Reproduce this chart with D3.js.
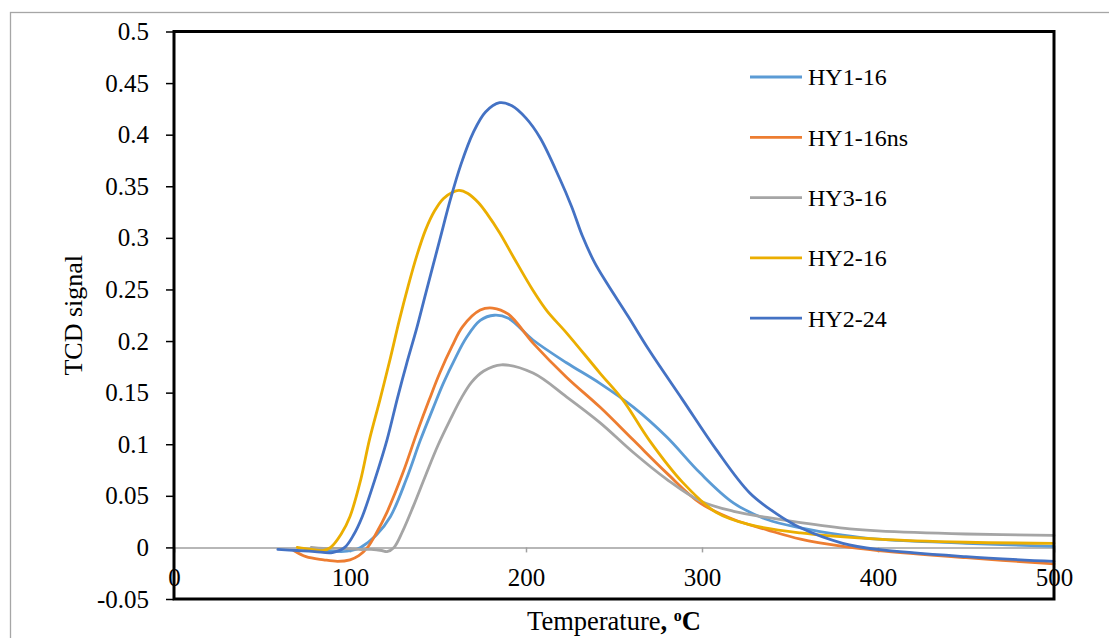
<!DOCTYPE html>
<meta charset="utf-8">
<style>
  body { margin: 0; background: #fff; }
  text { font-family: "Liberation Serif", "Times New Roman", serif; fill: #000; }
</style>
<script src="https://d3js.org/d3.v7.min.js"></script>
<div id="chart"></div>
<script>
// values
var xTicks = [0, 100, 200, 300, 400, 500];
var yTicks = [-0.05, 0, 0.05, 0.1, 0.15, 0.2, 0.25, 0.3, 0.35, 0.4, 0.45, 0.5];

var hy1_16_T = [75, 85, 95, 101, 106, 115, 123, 132, 140, 147, 153, 160, 166, 174, 182, 190, 204, 223, 242, 261, 280, 299, 318, 337, 356, 380, 400, 450, 500];
var hy1_16_V = [-0.002, -0.003, -0.004, -0.003, 0.0, 0.012, 0.030, 0.066, 0.104, 0.134, 0.159, 0.184, 0.203, 0.220, 0.225, 0.222, 0.201, 0.179, 0.159, 0.136, 0.107, 0.072, 0.043, 0.027, 0.019, 0.012, 0.008, 0.004, 0.001];

var hy1_16ns_T = [68, 75, 85, 93, 100, 105, 110, 115, 121, 130, 138, 145, 151, 158, 164, 174, 181, 190, 204, 223, 242, 261, 280, 299, 318, 337, 356, 380, 400, 450, 500];
var hy1_16ns_V = [-0.003, -0.009, -0.012, -0.0135, -0.012, -0.008, 0.0, 0.014, 0.034, 0.072, 0.111, 0.143, 0.169, 0.195, 0.214, 0.230, 0.232, 0.226, 0.198, 0.165, 0.136, 0.104, 0.072, 0.043, 0.027, 0.017, 0.008, 0.001, -0.003, -0.010, -0.016];

var hy3_16_T = [78, 85, 95, 105, 112, 118, 121, 125, 130, 136, 143, 150, 157, 163, 169, 176, 186, 204, 223, 242, 261, 280, 299, 318, 337, 356, 384, 400, 450, 500];
var hy3_16_V = [0.0, -0.001, -0.001, -0.002, -0.002, -0.003, -0.004, 0.0, 0.016, 0.040, 0.070, 0.099, 0.124, 0.144, 0.160, 0.171, 0.177, 0.169, 0.146, 0.121, 0.092, 0.066, 0.045, 0.035, 0.029, 0.024, 0.018, 0.016, 0.013, 0.0116];

var hy2_16_T = [70, 78, 85, 89, 95, 100, 106, 111, 117, 123, 128, 133, 138, 143, 148, 153, 158, 162, 167, 173, 178, 185, 193, 204, 212, 223, 242, 255, 270, 289, 308, 327, 356, 400, 450, 500];
var hy2_16_V = [0.0, -0.002, -0.003, 0.0, 0.013, 0.030, 0.065, 0.104, 0.143, 0.184, 0.220, 0.253, 0.283, 0.308, 0.326, 0.338, 0.344, 0.346, 0.343, 0.334, 0.323, 0.305, 0.281, 0.249, 0.229, 0.208, 0.169, 0.143, 0.104, 0.063, 0.034, 0.022, 0.014, 0.008, 0.005, 0.004];

var hy2_24_T = [59, 70, 80, 90, 97, 102, 107, 114, 121, 127, 132, 138, 143, 151, 157, 163, 170, 177, 185, 192, 200, 208, 219, 226, 232, 239, 246, 258, 270, 289, 308, 327, 342, 356, 380, 400, 450, 500];
var hy2_24_V = [-0.002, -0.003, -0.004, -0.005, 0.0, 0.012, 0.030, 0.065, 0.104, 0.145, 0.177, 0.213, 0.246, 0.298, 0.337, 0.371, 0.402, 0.422, 0.431, 0.428, 0.416, 0.397, 0.358, 0.330, 0.302, 0.276, 0.256, 0.224, 0.191, 0.143, 0.095, 0.053, 0.033, 0.019, 0.004, -0.002, -0.009, -0.0135];

var seriesNames = ["HY1-16", "HY1-16ns", "HY3-16", "HY2-16", "HY2-24"];
var seriesColors = ["#5B9BD5", "#ED7D31", "#A5A5A5", "#EBAE00", "#4472C4"];

var series = [
  { T: hy1_16_T, V: hy1_16_V },
  { T: hy1_16ns_T, V: hy1_16ns_V },
  { T: hy3_16_T, V: hy3_16_V },
  { T: hy2_16_T, V: hy2_16_V },
  { T: hy2_24_T, V: hy2_24_V }
];

var W = 1109, H = 638;
var plot = { left: 174, right: 1054, top: 31.5, bottom: 599 };

var svg = d3.select("#chart").append("svg")
  .attr("width", W)
  .attr("height", H);

// outer chart border
svg.append("rect")
  .attr("x", 10.5).attr("y", 12.5)
  .attr("width", 1200).attr("height", 700)
  .attr("fill", "none")
  .attr("stroke", "#A6A6A6")
  .attr("stroke-width", 1.3);

var x = d3.scaleLinear().domain([0, 500]).range([plot.left, plot.right]);
var y = d3.scaleLinear().domain([-0.05, 0.5]).range([plot.bottom, plot.top]);

// horizontal axis sits on y = 0 (gray), labels below it
var xAxis = svg.append("g")
  .attr("transform", "translate(0," + y(0) + ")")
  .call(d3.axisBottom(x).tickValues(xTicks).tickSize(5).tickPadding(16).tickFormat(d3.format("d")));
xAxis.select(".domain").attr("stroke", "#A0A0A0").attr("stroke-width", 1.5);
xAxis.selectAll(".tick line").attr("stroke", "#A0A0A0").attr("stroke-width", 1.5);
xAxis.selectAll(".tick text")
  .attr("font-size", 25)
  .attr("fill", "#000");

// vertical axis
var yAxis = svg.append("g")
  .attr("transform", "translate(" + plot.left + ",0)")
  .call(d3.axisLeft(y).tickValues(yTicks).tickSize(8).tickPadding(17).tickFormat(function (d) { return String(+d.toFixed(2)); }));
yAxis.select(".domain").remove();
yAxis.selectAll(".tick line").attr("stroke", "#000").attr("stroke-width", 1.5);
yAxis.selectAll(".tick text")
  .attr("font-size", 25)
  .attr("fill", "#000");

// curves
var line = d3.line()
  .x(function (d) { return x(d[0]); })
  .y(function (d) { return y(d[1]); })
  .curve(d3.curveCatmullRom.alpha(0.5));

series.forEach(function (s, i) {
  var pts = s.T.map(function (t, j) { return [t, s.V[j]]; });
  svg.append("path")
    .datum(pts)
    .attr("d", line)
    .attr("fill", "none")
    .attr("stroke", seriesColors[i])
    .attr("stroke-width", 2.8)
    .attr("stroke-linejoin", "round")
    .attr("stroke-linecap", "round");
});

// plot area frame
svg.append("rect")
  .attr("x", plot.left).attr("y", plot.top)
  .attr("width", plot.right - plot.left).attr("height", plot.bottom - plot.top)
  .attr("fill", "none")
  .attr("stroke", "#000")
  .attr("stroke-width", 3);

// legend
var legend = svg.append("g");
seriesNames.forEach(function (name, i) {
  var ly = 77 + i * 60.3;
  legend.append("line")
    .attr("x1", 750).attr("x2", 802)
    .attr("y1", ly).attr("y2", ly)
    .attr("stroke", seriesColors[i])
    .attr("stroke-width", 2.8);
  legend.append("text")
    .attr("x", 808).attr("y", ly)
    .attr("dy", "0.35em")
    .attr("font-size", 24)
    .text(name);
});

// axis titles
svg.append("text")
  .attr("transform", "translate(82," + ((plot.top + plot.bottom) / 2) + ") rotate(-90)")
  .attr("text-anchor", "middle")
  .attr("font-size", 26)
  .text("TCD signal");

var xt = svg.append("text")
  .attr("x", (plot.left + plot.right) / 2)
  .attr("y", 630)
  .attr("text-anchor", "middle")
  .attr("font-size", 26.5);
xt.append("tspan").text("Temperature");
xt.append("tspan").attr("font-weight", "bold").text(", ");
xt.append("tspan").attr("font-weight", "bold").attr("font-size", 16).attr("dy", -9).text("o");
xt.append("tspan").attr("font-weight", "bold").attr("dy", 9).text("C");
</script>
